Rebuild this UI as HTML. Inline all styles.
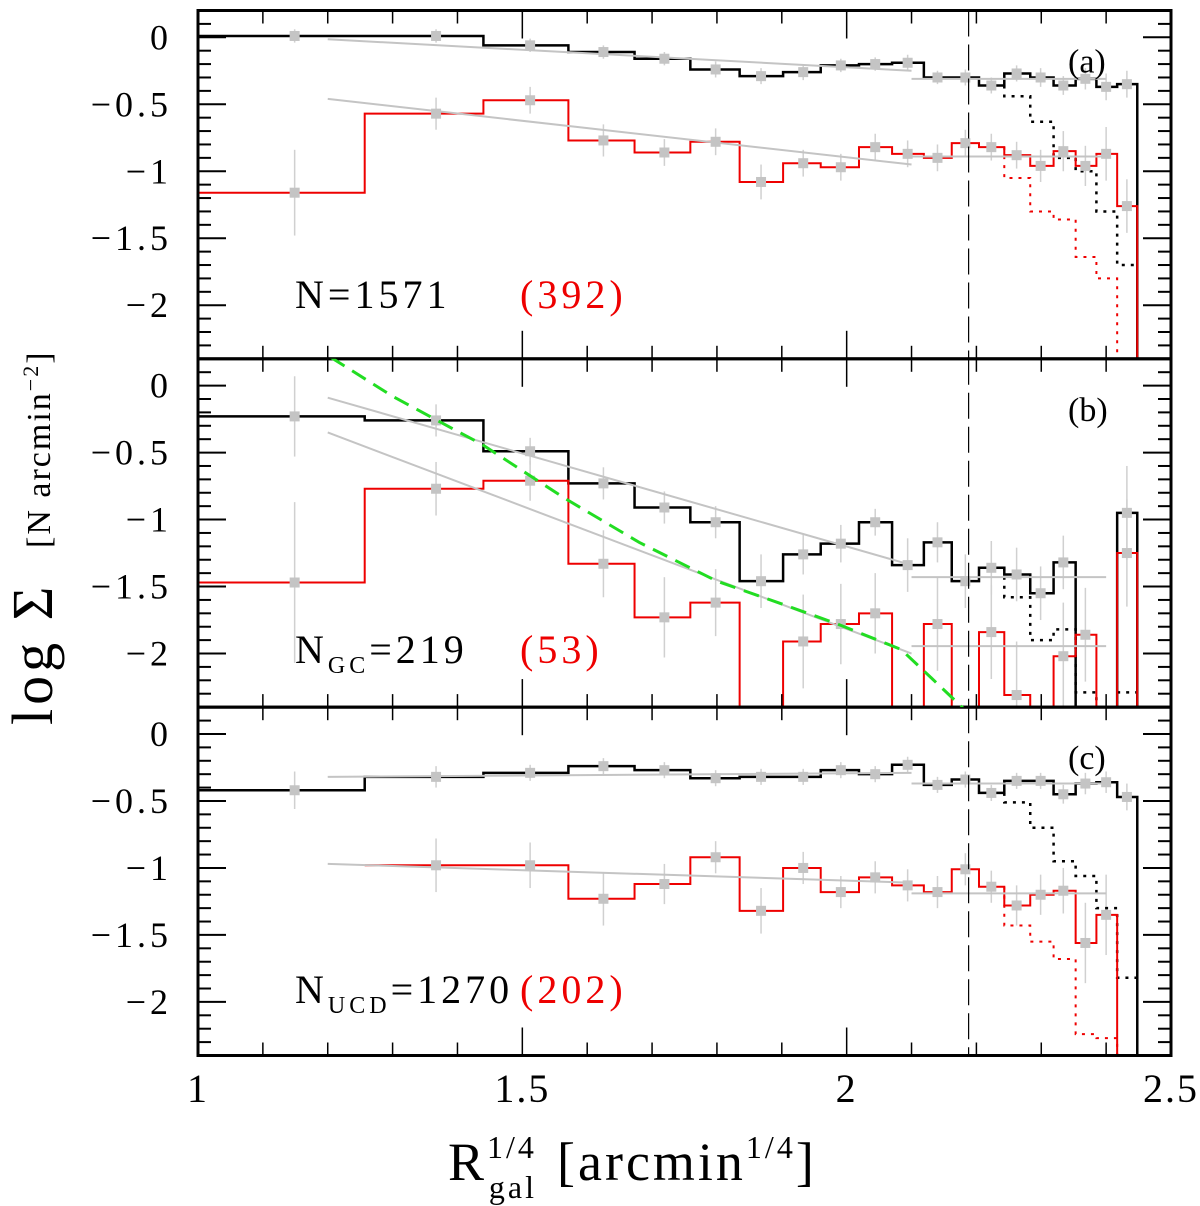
<!DOCTYPE html>
<html><head><meta charset="utf-8">
<style>
html,body{margin:0;padding:0;background:#fff;}
svg{display:block;}
text{font-family:"Liberation Serif",serif;}
</style></head>
<body>
<svg id="chart" width="1200" height="1206" viewBox="0 0 1200 1206" xmlns="http://www.w3.org/2000/svg">
<g id="plot"></g>
<g id="labels">
  <text transform="translate(52,725) rotate(-90)" font-size="58" letter-spacing="4">log Σ</text>
  <text transform="translate(50,548) rotate(-90)" font-size="34" letter-spacing="2">[N arcmin<tspan dy="-12" font-size="22">−2</tspan><tspan dy="12">]</tspan></text>
  <text x="448" y="1180" font-size="54" letter-spacing="3">R<tspan dy="-22" font-size="32">1/4</tspan><tspan dx="-48" dy="40" font-size="32">gal</tspan><tspan dy="-18" dx="20">[arcmin</tspan><tspan dy="-22" font-size="32">1/4</tspan><tspan dy="22">]</tspan></text>
</g>
</svg>
<script>
// ---- data ----
const binEdges = [1.0,1.257,1.44,1.571,1.673,1.759,1.835,1.902,1.960,2.019,2.070,2.119,2.162,2.204,2.243,2.283,2.319,2.353,2.385,2.417,2.448];
const binCenters = [1.149,1.367,1.512,1.625,1.719,1.798,1.868,1.933,1.991,2.044,2.094,2.140,2.183,2.223,2.262,2.299,2.334,2.368,2.400,2.432];
const xTicks = [1,1.5,2,2.5];
const xTickLabels = ["1","1.5","2","2.5"];
const yTicks = [0,-0.5,-1,-1.5,-2];
const yTickLabels = ["0","−0.5","−1","−1.5","−2"];
// panel (a)
const aAll = [0.01,0.01,-0.06,-0.11,-0.16,-0.24,-0.29,-0.26,-0.21,-0.20,-0.19,-0.30,-0.30,-0.36,-0.27,-0.30,-0.36,-0.31,-0.37,-0.35];
const aAllErr = [0.05,0.05,0.05,0.05,0.05,0.06,0.06,0.06,0.05,0.05,0.06,0.05,0.06,0.06,0.06,0.07,0.07,0.08,0.1,0.1];
const aAllDot = [null,null,null,null,null,null,null,null,null,null,null,null,null,null,-0.44,-0.63,-0.9,-1.0,-1.30,-1.70];
const aRed = [-1.16,-0.57,-0.47,-0.77,-0.86,-0.78,-1.08,-0.94,-0.97,-0.82,-0.87,-0.90,-0.79,-0.82,-0.88,-0.96,-0.85,-0.96,-0.87,-1.26];
const aRedErr = [0.32,0.12,0.1,0.12,0.1,0.1,0.13,0.1,0.1,0.1,0.1,0.1,0.1,0.1,0.1,0.12,0.15,0.15,0.2,0.2];
const aRedDot = [null,null,null,null,null,null,null,null,null,null,null,null,null,null,-1.05,-1.30,-1.36,-1.64,-1.80,null];
const aFits = [[1.2,-0.015,2.1,-0.25],[2.1,-0.31,2.4,-0.31],[1.2,-0.46,2.1,-0.95],[2.1,-0.89,2.4,-0.89]];
// panel (b)
const bAll = [-0.23,-0.26,-0.49,-0.73,-0.91,-1.02,-1.46,-1.26,-1.18,-1.02,-1.34,-1.17,-1.46,-1.36,-1.41,-1.55,-1.32,null,null,-0.95];
const bAllErr = [0.3,0.12,0.1,0.12,0.12,0.12,0.2,0.15,0.14,0.1,0.2,0.15,0.2,0.2,0.2,0.2,0.2,0,0,0.35];
const bAllDot = [null,null,null,null,null,null,null,null,null,null,null,null,null,null,-1.58,-1.90,-1.82,-2.29,null,-2.29];
const bRed = [-1.47,-0.77,-0.71,-1.33,-1.73,-1.62,null,-1.91,-1.78,-1.70,null,-1.78,null,-1.84,-2.31,null,-2.02,-1.86,null,-1.25];
const bRedErr = [0.6,0.2,0.15,0.25,0.3,0.25,0,0.35,0.3,0.3,0,0.35,0,0.35,0.4,0,0.4,0.35,0,0.4];
const bFits = [[1.2,-0.09,2.1,-1.34],[1.2,-0.35,2.1,-2.0],[2.1,-1.43,2.4,-1.43],[2.1,-1.945,2.4,-1.945]];
const bModelX = [1.205,1.30,1.438,1.565,1.68,1.80,1.90,1.986,2.084,2.13,2.18];
const bModelY = [0.21,-0.08,-0.44,-0.84,-1.17,-1.46,-1.63,-1.78,-1.97,-2.18,-2.41];
// panel (c)
const cAll = [-0.42,-0.32,-0.29,-0.24,-0.27,-0.33,-0.32,-0.32,-0.27,-0.30,-0.23,-0.38,-0.34,-0.44,-0.35,-0.35,-0.45,-0.37,-0.36,-0.47];
const cAllErr = [0.14,0.08,0.06,0.06,0.06,0.06,0.06,0.06,0.06,0.06,0.06,0.06,0.06,0.06,0.06,0.06,0.07,0.08,0.08,0.1];
const cAllDot = [null,null,null,null,null,null,null,null,null,null,null,null,null,null,-0.51,-0.70,-0.95,-1.06,-1.30,-1.82];
const cRed = [null,-0.98,-0.98,-1.23,-1.12,-0.92,-1.32,-1.00,-1.18,-1.07,-1.13,-1.18,-1.01,-1.14,-1.28,-1.20,-1.17,-1.56,-1.35,null];
const cRedErr = [0,0.2,0.17,0.2,0.15,0.12,0.17,0.12,0.12,0.12,0.12,0.12,0.12,0.12,0.15,0.15,0.17,0.3,0.3,0];
const cRedDot = [null,null,null,null,null,null,null,null,null,null,null,null,null,null,-1.43,-1.55,-1.68,-2.24,-2.27,null];
const cFits = [[1.2,-0.32,2.1,-0.29],[2.1,-0.37,2.4,-0.37],[1.2,-0.97,2.1,-1.11],[2.1,-1.19,2.4,-1.19]];
const vLineX = 2.188;

// ---- layout ----
const X0=198, X1=1171, XMIN=1, XMAX=2.5;
const PANEL_TOPS=[10.5,358.8,707.2], PH=348.3, YMAX=0.2, YMIN=-2.4;
const xs = v => X0 + (v-XMIN)/(XMAX-XMIN)*(X1-X0);
const ysFor = p => v => PANEL_TOPS[p] + (YMAX-v)/(YMAX-YMIN)*PH;
const NS="http://www.w3.org/2000/svg";
const plot=document.getElementById('plot');
function mk(tag,attrs,parent){const e=document.createElementNS(NS,tag);for(const k in attrs)e.setAttribute(k,attrs[k]);(parent||plot).appendChild(e);return e;}

function stepPath(vals, ys, bottom){
  let d=""; let prevY=null;
  for(let i=0;i<vals.length;i++){
    const v=vals[i]; if(v===null && prevY===null) continue;
    const xa=xs(binEdges[i]), xb=xs(binEdges[i+1]);
    const y = v===null? bottom : ys(v);
    if(prevY===null){ d+=`M${xa},${y}`; }
    else d+=`L${xa},${prevY}L${xa},${y}`;
    d+=`L${xb},${y}`; prevY=y;
  }
  if(prevY!==null) d+=`L${xs(binEdges[vals.length])},${prevY}L${xs(binEdges[vals.length])},${bottom}`;
  return d;
}
function dotPath(vals, ys, bottom, base){
  let d="", prevY=null;
  for(let i=0;i<vals.length;i++){
    const v=vals[i]; if(v===null){ if(prevY!==null){const xa=xs(binEdges[i]);d+=`L${xa},${prevY}L${xa},${bottom}`;prevY=null;} continue;}
    const xa=xs(binEdges[i]), xb=xs(binEdges[i+1]), y=ys(v);
    if(prevY===null){ const by = base[i-1]!=null? ys(base[i-1]) : y; d+=`M${xa},${by}L${xa},${y}`; }
    else d+=`L${xa},${prevY}L${xa},${y}`;
    d+=`L${xb},${y}`; prevY=y;
  }
  return d;
}

function drawPanel(p, all, allErr, allDot, red, redErr, redDot, fits, letter){
  const ys=ysFor(p); const top=PANEL_TOPS[p], bot=top+PH;
  const g=mk('g',{});
  
  
  const clipId='clip'+p;
  const cp=mk('clipPath',{id:clipId},g); mk('rect',{x:X0,y:top,width:X1-X0,height:PH},cp);
  const inner=mk('g',{'clip-path':`url(#${clipId})`},g);
  [[all,allErr],[red,redErr]].forEach(([vals,errs])=>{
    vals.forEach((v,i)=>{ if(v===null)return;
      const eb=mk('line',{x1:xs(binCenters[i]),x2:xs(binCenters[i]),y1:ys(v+errs[i]),y2:ys(v-errs[i]),stroke:'#d0d0d0','stroke-width':1.5},inner);
      
      
    });
  });
  if(allDot){const e=mk('path',{d:dotPath(allDot,ys,bot+5,all),fill:'none',stroke:'#000','stroke-width':2.5,'stroke-dasharray':'3 6'},inner);
    
    }
  if(redDot){const e=mk('path',{d:dotPath(redDot,ys,bot+5,red),fill:'none',stroke:'#e00','stroke-width':2,'stroke-dasharray':'3 6'},inner);
    
    }
  const sa=mk('path',{d:stepPath(all,ys,bot+5),fill:'none',stroke:'#000','stroke-width':2.5},inner);
  
  
  const sr=mk('path',{d:stepPath(red,ys,bot+5),fill:'none',stroke:'#e00','stroke-width':2},inner);
  
  
  fits.forEach(f=>{const l=mk('line',{x1:xs(f[0]),y1:ys(f[1]),x2:xs(f[2]),y2:ys(f[3]),stroke:'#c4c4c4','stroke-width':2},inner);
    
    });
  [all,red].forEach(vals=>vals.forEach((v,i)=>{ if(v===null)return;
    const m=mk('rect',{x:xs(binCenters[i])-5,y:ys(v)-5,width:10,height:10,fill:'#c4c4c4'},inner);
    
    
  }));
  const vl=mk('line',{x1:xs(vLineX),x2:xs(vLineX),y1:top,y2:bot,stroke:'#000','stroke-width':1.2,'stroke-dasharray':'26 8'},g);
  
  
  for(let k=1;k<15;k++){const v=1+k*0.1; const x=xs(v); const len=(k%5===0)?28:13;
    mk('line',{x1:x,x2:x,y1:bot,y2:bot-len,stroke:'#000','stroke-width':1.5},g);
    mk('line',{x1:x,x2:x,y1:top,y2:top+len,stroke:'#000','stroke-width':1.5},g);}
  for(let k=-23;k<=1;k++){const v=k*0.1; const y=ys(v); const major=(k%5===0); const len=major?28:13;
    mk('line',{x1:X0,x2:X0+len,y1:y,y2:y,stroke:'#000','stroke-width':2},g);
    mk('line',{x1:X1,x2:X1-len,y1:y,y2:y,stroke:'#000','stroke-width':2},g);}
  const fr=mk('rect',{x:X0,y:top,width:X1-X0,height:PH,fill:'none',stroke:'#000','stroke-width':3},g);
  
  
  yTicks.forEach((v,i)=>{const t=mk('text',{x:172,y:ys(v)+12,'text-anchor':'end','font-size':36,'letter-spacing':'4'},g);
    t.textContent=yTickLabels[i];
    
    });
  const pl=mk('text',{x:1068,y:top+62,'font-size':34,'font-family':'Liberation Sans, sans-serif'},g);
  pl.textContent='('+letter+')';
  
  
  return g;
}
drawPanel(0,aAll,aAllErr,aAllDot,aRed,aRedErr,aRedDot,aFits,'a');
drawPanel(1,bAll,bAllErr,bAllDot,bRed,bRedErr,null,bFits,'b');
drawPanel(2,cAll,cAllErr,cAllDot,cRed,cRedErr,cRedDot,cFits,'c');

{const ys=ysFor(1); let d=bModelX.map((x,i)=>(i?'L':'M')+xs(x)+','+ys(bModelY[i])).join('');
 const cp=mk('clipPath',{id:'clipm'}); mk('rect',{x:X0,y:PANEL_TOPS[1],width:X1-X0,height:PH},cp);
 const m=mk('path',{d:d,fill:'none',stroke:'#22dd22','stroke-width':3,'stroke-dasharray':'16 9','clip-path':'url(#clipm)'});
 
 }

xTicks.forEach((v,i)=>{const t=mk('text',{x:xs(v),y:1102,'text-anchor':'middle','font-size':40,'letter-spacing':'2'});
  t.textContent=xTickLabels[i];
  
  });

function ann(x,y,html,name){const t=mk('text',{x:x,y:y,'font-size':40,'letter-spacing':'4'});t.innerHTML=html;
  
  }
ann(295,308,'N=1571','count-all-a');
ann(520,308,'<tspan fill="#e00">(392)</tspan>','count-red-a');
ann(295,663,'N<tspan font-size="24" dy="10">GC</tspan><tspan dy="-10">=219</tspan>','count-all-b');
ann(520,663,'<tspan fill="#e00">(53)</tspan>','count-red-b');
ann(295,1003,'N<tspan font-size="24" dy="10">UCD</tspan><tspan dy="-10">=1270</tspan>','count-all-c');
ann(520,1003,'<tspan fill="#e00">(202)</tspan>','count-red-c');
</script>
</body></html>
